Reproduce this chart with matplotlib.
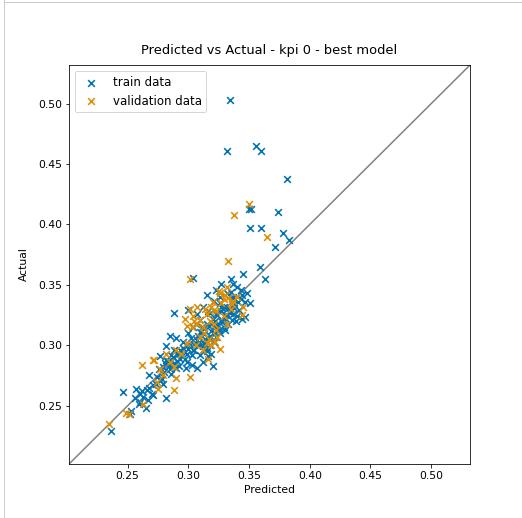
import matplotlib
matplotlib.use("Agg")
import matplotlib.pyplot as plt
from matplotlib.lines import Line2D

# predicted / actual values
train_pred = [0.334, 0.332, 0.356, 0.360, 0.381, 0.350, 0.352, 0.374, 0.351, 0.360,
              0.378, 0.383, 0.371, 0.359, 0.363, 0.345, 0.304, 0.335, 0.337, 0.340,
              0.343, 0.327, 0.323, 0.332, 0.315, 0.336, 0.344, 0.347, 0.351, 0.321,
              0.326, 0.329, 0.332, 0.334, 0.337, 0.340, 0.344, 0.347, 0.312, 0.316,
              0.300, 0.307, 0.288, 0.323, 0.329, 0.310, 0.315, 0.321, 0.325, 0.329,
              0.333, 0.336, 0.326, 0.304, 0.310, 0.318, 0.323, 0.285, 0.290, 0.282,
              0.296, 0.301, 0.307, 0.312, 0.304, 0.315, 0.319, 0.293, 0.299, 0.310,
              0.277, 0.282, 0.288, 0.293, 0.299, 0.303, 0.307, 0.312, 0.316, 0.320,
              0.279, 0.285, 0.290, 0.268, 0.274, 0.277, 0.271, 0.279, 0.266, 0.260,
              0.270, 0.263, 0.257, 0.246, 0.256, 0.260, 0.267, 0.271, 0.282, 0.265,
              0.252, 0.253, 0.259, 0.236, 0.318, 0.322, 0.327, 0.331, 0.319, 0.314,
              0.308, 0.302, 0.296, 0.291, 0.287, 0.284, 0.280, 0.276, 0.273, 0.268,
              0.262, 0.305, 0.309, 0.313, 0.317, 0.324, 0.328, 0.333, 0.338, 0.342,
              0.335, 0.326, 0.297, 0.292, 0.288, 0.283, 0.300, 0.306, 0.311, 0.321,
              0.315, 0.303, 0.298, 0.286, 0.278, 0.339, 0.330, 0.343, 0.348, 0.337,
              0.320, 0.324, 0.328, 0.331, 0.317, 0.313, 0.309, 0.305, 0.300, 0.295,
              0.291, 0.286, 0.281, 0.334, 0.338, 0.341, 0.322, 0.318, 0.312, 0.327]
train_act = [0.503, 0.461, 0.465, 0.461, 0.438, 0.413, 0.413, 0.410, 0.397, 0.397,
             0.393, 0.387, 0.381, 0.365, 0.355, 0.359, 0.356, 0.355, 0.351, 0.348,
             0.346, 0.351, 0.346, 0.343, 0.342, 0.339, 0.342, 0.336, 0.335, 0.337,
             0.335, 0.332, 0.330, 0.328, 0.326, 0.324, 0.322, 0.323, 0.332, 0.328,
             0.329, 0.326, 0.327, 0.326, 0.324, 0.321, 0.318, 0.315, 0.313, 0.315,
             0.318, 0.321, 0.310, 0.315, 0.311, 0.308, 0.307, 0.308, 0.306, 0.299,
             0.303, 0.300, 0.304, 0.299, 0.296, 0.295, 0.293, 0.296, 0.293, 0.292,
             0.291, 0.288, 0.285, 0.289, 0.286, 0.284, 0.281, 0.286, 0.291, 0.283,
             0.282, 0.280, 0.281, 0.275, 0.274, 0.271, 0.267, 0.268, 0.263, 0.260,
             0.260, 0.257, 0.264, 0.261, 0.256, 0.253, 0.255, 0.259, 0.256, 0.248,
             0.243, 0.246, 0.251, 0.229, 0.327, 0.320, 0.328, 0.325, 0.312, 0.305,
             0.308, 0.306, 0.298, 0.293, 0.290, 0.283, 0.278, 0.280, 0.268, 0.265,
             0.262, 0.296, 0.300, 0.309, 0.316, 0.318, 0.321, 0.331, 0.334, 0.329,
             0.344, 0.340, 0.289, 0.283, 0.296, 0.287, 0.310, 0.318, 0.315, 0.303,
             0.298, 0.292, 0.281, 0.276, 0.272, 0.320, 0.313, 0.338, 0.343, 0.340,
             0.322, 0.316, 0.319, 0.322, 0.305, 0.302, 0.303, 0.301, 0.297, 0.291,
             0.287, 0.292, 0.285, 0.327, 0.331, 0.336, 0.310, 0.300, 0.296, 0.332]

val_pred = [0.350, 0.338, 0.365, 0.333, 0.301, 0.301, 0.304, 0.307, 0.303, 0.315,
            0.319, 0.323, 0.326, 0.330, 0.333, 0.337, 0.329, 0.332, 0.321, 0.323,
            0.312, 0.310, 0.315, 0.319, 0.322, 0.326, 0.316, 0.312, 0.299, 0.290,
            0.294, 0.282, 0.277, 0.279, 0.288, 0.301, 0.290, 0.288, 0.271, 0.272,
            0.262, 0.274, 0.275, 0.263, 0.249, 0.251, 0.235, 0.344, 0.345, 0.307,
            0.297, 0.285, 0.318, 0.327, 0.335, 0.340, 0.313, 0.306, 0.325, 0.332,
            0.320, 0.310, 0.314, 0.321, 0.329, 0.336, 0.305, 0.299, 0.317, 0.324]
val_act = [0.417, 0.408, 0.390, 0.370, 0.355, 0.330, 0.324, 0.318, 0.315, 0.326,
           0.332, 0.328, 0.343, 0.342, 0.339, 0.337, 0.324, 0.318, 0.318, 0.313,
           0.315, 0.307, 0.302, 0.300, 0.303, 0.297, 0.289, 0.296, 0.302, 0.296,
           0.293, 0.293, 0.280, 0.275, 0.282, 0.274, 0.273, 0.263, 0.288, 0.288,
           0.284, 0.270, 0.264, 0.251, 0.244, 0.243, 0.235, 0.325, 0.332, 0.332,
           0.322, 0.286, 0.320, 0.335, 0.330, 0.340, 0.310, 0.300, 0.345, 0.348,
           0.336, 0.321, 0.330, 0.329, 0.338, 0.334, 0.320, 0.316, 0.305, 0.307]

lims = [0.2017, 0.532]

fs = 10.8
fig = plt.figure(figsize=(522/72, 518/72), dpi=72)
ax = fig.add_axes([0.1322, 0.1042, 0.7682, 0.7703])

ax.scatter(train_pred, train_act, marker="x", s=45, linewidths=1.6,
           color="#0173b2", label="train data")
ax.scatter(val_pred, val_act, marker="x", s=45, linewidths=1.6,
           color="#de8f05", label="validation data")
ax.plot(lims, lims, color="gray", linewidth=1.5, zorder=0)

ax.set_xlim(lims)
ax.set_ylim(lims)
ax.set_xticks([0.25, 0.30, 0.35, 0.40, 0.45, 0.50])
ax.set_yticks([0.25, 0.30, 0.35, 0.40, 0.45, 0.50])
ax.tick_params(labelsize=fs)
ax.set_xlabel("Predicted", fontsize=fs)
ax.set_ylabel("Actual", fontsize=fs, labelpad=9)
ax.set_title("Predicted vs Actual - kpi 0 - best model", fontsize=13, pad=11)
ax.legend(loc="upper left", fontsize=11.8)

# notebook cell border seen in the screenshot
fig.add_artist(Line2D([4/522, 4/522], [0, 1], color="#cccccc", linewidth=1))
fig.add_artist(Line2D([4/522, 1], [1 - 2/518, 1 - 2/518], color="#cccccc", linewidth=1))

fig.savefig("out.png", dpi=72)
